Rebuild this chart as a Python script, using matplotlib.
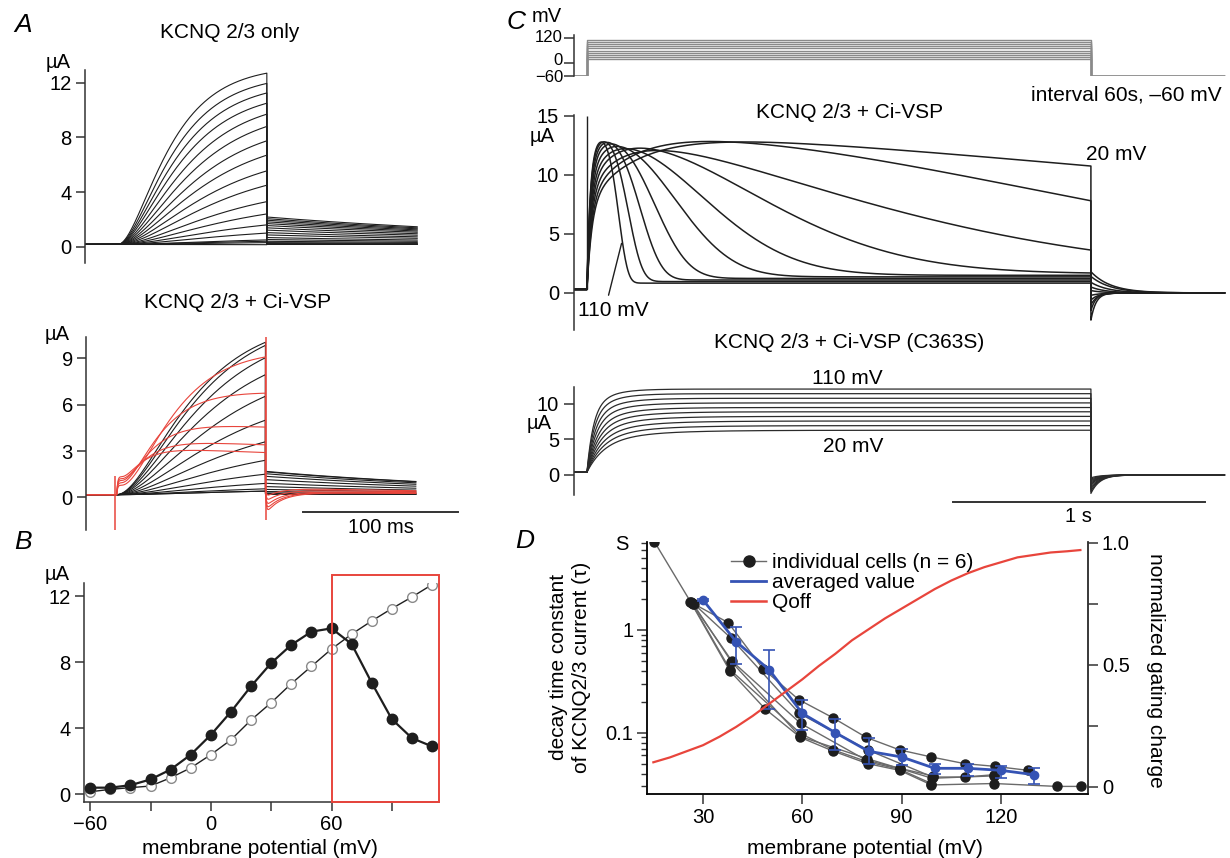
import numpy as np
import matplotlib
matplotlib.use("Agg")
import matplotlib.pyplot as plt
from matplotlib.lines import Line2D
from matplotlib.patches import Rectangle
from matplotlib.ticker import LogLocator, NullFormatter

plt.rcParams['font.family'] = ['Liberation Sans', 'DejaVu Sans']
plt.rcParams['font.size'] = 14.5
plt.rcParams['axes.linewidth'] = 1.1

W, H = 1230, 858
INK = '#1e1e1e'
AXC = '#333333'
RED = '#e8453c'
BLUE = '#3553b4'
GRAY = '#6a6a6a'

# ---------------- A / B : KCNQ2/3 steps (-60 .. 110 mV) ----------------
ab_mv = [-60, -50, -40, -30, -20, -10, 0, 10, 20, 30, 40, 50, 60, 70, 80, 90, 100, 110]
# current at end of the step (uA), KCNQ2/3 only (open circles in B)
only_end = [0.15, 0.3, 0.4, 0.5, 1.0, 1.6, 2.4, 3.3, 4.5, 5.55, 6.7, 7.75, 8.8, 9.7, 10.5, 11.25, 11.95, 12.7]
# KCNQ2/3 + Ci-VSP (filled circles in B)
vsp_end = [0.4, 0.4, 0.55, 0.9, 1.5, 2.4, 3.6, 5.0, 6.55, 7.95, 9.05, 9.85, 10.05, 9.1, 6.75, 4.55, 3.4, 2.9]
act_tau_ms = [60, 60, 60, 60, 60, 58, 56, 53, 50, 46, 43, 40, 37, 34, 31, 29, 27, 25]
a_step_ms = 96.0
a_tail_ms = 97.0
a_hold = 0.17
only_tail_ratio = 0.16
only_tail_tau = 220.0
vsp_tail_ratio = 0.153
vsp_tail_tau = 170.0
# red (depleting) traces 70..110 mV
vsp_red_mv = [70, 80, 90, 100, 110]
vsp_red_tau_ms = [28, 20, 15, 12, 10]
vsp_red_sag = [0.03, 0.04, 0.08, 0.10, 0.12]
vsp_red_hump = [0.8, 1.0, 1.2, 1.35, 1.5]
vsp_red_offdip = [0.6, 0.8, 1.0, 1.2, 1.4]
vsp_cap_on = [-2.6, 1.4]
vsp_cap_off = [-1.45, 10.6]
b_box_mv = [60, 113.3]
b_box_ua = [-0.45, 13.3]

# ---------------- C : 2 s steps, 20 .. 110 mV ----------------
c_mv = [20, 30, 40, 50, 60, 70, 80, 90, 100, 110]
c_hold_mv = -60
c_proto_ticks = [-60, 0, 120]
c_step_s = 2.0
c_end_s = 2.53
c_hold = 0.3
c_imax = 13.6
c_cap_peak = 15.0
c_fast_frac = [0.55, 0.58, 0.62, 0.65, 0.68, 0.71, 0.74, 0.76, 0.78, 0.80]
c_fast_tau = [0.020, 0.019, 0.018, 0.017, 0.016, 0.015, 0.014, 0.013, 0.012, 0.012]
c_slow_act = [0.20, 0.17, 0.14, 0.11, 0.09, 0.07, 0.055, 0.045, 0.038, 0.032]
c_t_half = [3.8, 2.08, 1.14, 0.726, 0.49, 0.366, 0.271, 0.209, 0.161, 0.1225]
c_steep = [1.5, 2.0, 1.58, 2.0, 2.2, 2.5, 3.0, 3.5, 4.0, 4.5]
c_rest = [0.08, 0.08, 0.08, 0.10, 0.09, 0.08, 0.07, 0.06, 0.05, 0.04]
c_tail = [1.8, 1.4, 0.9, 0.5, 0.2, -0.2, -0.6, -1.0, -1.5, -2.3]
c_tail_tau = [0.08, 0.08, 0.07, 0.06, 0.05, 0.04, 0.03, 0.025, 0.02, 0.02]
# C363S
cm_plateau = [6.3, 6.95, 7.6, 8.25, 8.9, 9.5, 10.15, 10.8, 11.45, 12.1]
cm_tau_fast = [0.07, 0.063, 0.057, 0.051, 0.046, 0.041, 0.036, 0.032, 0.028, 0.025]
cm_tail = [-0.4, -0.6, -0.8, -1.0, -1.2, -1.4, -1.7, -2.0, -2.3, -2.6]
cm_hold = 0.4

# ---------------- D : decay time constants ----------------
cells_mv = [
    [15.3, 26.2, 38.1, 48.8, 59.4, 69.4, 79.7, 89.4, 99.0, 118.0, 136.8, 144.3],
    [27.3, 37.6, 48.1, 58.9, 69.2, 79.3, 89.4, 99.0, 109.0, 118.2, 128.2],
    [26.8, 38.5, 59.1, 79.7, 99.4, 109.0, 118.0],
    [26.4, 38.7, 59.5, 79.3, 89.4, 99.4],
    [26.6, 38.2, 59.5, 69.4, 79.7, 89.4, 99.0],
    [27.0, 38.6, 59.3, 79.5, 99.2, 118.0],
]
cells_tau = [
    [7.25, 1.89, 0.40, 0.17, 0.090, 0.066, 0.050, 0.043, 0.031, 0.032, 0.030, 0.030],
    [1.79, 1.18, 0.42, 0.21, 0.14, 0.090, 0.068, 0.058, 0.050, 0.047, 0.043],
    [1.85, 0.83, 0.154, 0.068, 0.037, 0.037, 0.039],
    [1.87, 0.50, 0.123, 0.054, 0.045, 0.038],
    [1.83, 0.41, 0.098, 0.068, 0.052, 0.044, 0.032],
    [1.80, 0.49, 0.092, 0.056, 0.036, 0.038],
]
avg_mv = [30, 40, 50, 60, 70, 80, 90, 100, 110, 120, 130]
avg_tau = [1.96, 0.77, 0.41, 0.154, 0.10, 0.066, 0.058, 0.045, 0.045, 0.043, 0.039]
avg_hi = [2.0, 1.08, 0.64, 0.21, 0.136, 0.088, 0.069, 0.050, 0.050, 0.047, 0.045]
avg_lo = [1.92, 0.47, 0.17, 0.106, 0.068, 0.050, 0.048, 0.040, 0.038, 0.036, 0.032]
qoff_mv = [15, 20, 25, 30, 35, 40, 45, 50, 55, 60, 65, 70, 75, 80, 85, 90, 95, 100,
           105, 110, 115, 120, 125, 130, 135, 140, 144]
qoff = [0.10, 0.12, 0.145, 0.17, 0.205, 0.245, 0.29, 0.34, 0.39, 0.44, 0.495, 0.545, 0.60, 0.645,
        0.69, 0.73, 0.77, 0.81, 0.845, 0.875, 0.90, 0.92, 0.94, 0.95, 0.96, 0.965, 0.97]

fig = plt.figure(figsize=(W / 100, H / 100), dpi=100)


def px_axes(left, top, right, bottom):
    return fig.add_axes([left / W, 1 - bottom / H, (right - left) / W, (bottom - top) / H])


def px_text(x, y, s, **kw):
    kw.setdefault('ha', 'center')
    kw.setdefault('va', 'center')
    fig.text(x / W, 1 - y / H, s, **kw)


def trace_axes(ax, ticks, length=6.5, size=14.5):
    for side in ['top', 'right', 'bottom']:
        ax.spines[side].set_visible(False)
    ax.spines['left'].set_color(AXC)
    ax.set_xticks([])
    ax.set_yticks(ticks)
    ax.tick_params(axis='y', direction='out', length=length, width=1.1, pad=3,
                   labelsize=size, color=AXC)
    ax.patch.set_alpha(0)


def a_trace(end, tau, t_on):
    amp = (end - a_hold) / (1 - np.exp(-a_step_ms / tau)) ** 2
    return a_hold + amp * (1 - np.exp(-t_on / tau)) ** 2


t_on = np.linspace(0, a_step_ms, 240)
t_off = np.linspace(a_step_ms, a_step_ms + a_tail_ms, 150)

# ---- A top: KCNQ 2/3 only ----
ax = px_axes(85, 70, 460, 263)
ax.set_xlim(-21.3, 220.6)
ax.set_ylim(-1.19, 12.93)
trace_axes(ax, [0, 4, 8, 12])
for end, tau in zip(only_end, act_tau_ms):
    i_off = a_hold + only_tail_ratio * (end - a_hold) * np.exp(-(t_off - a_step_ms) / only_tail_tau)
    t = np.concatenate([[-21.3], t_on, t_off])
    i = np.concatenate([[a_hold], a_trace(end, tau, t_on), i_off])
    ax.plot(t, i, color=INK, lw=0.8)

# ---- A bottom: KCNQ 2/3 + Ci-VSP ----
ax = px_axes(86, 336.7, 460, 530)
ax.set_xlim(-19.8, 221.5)
ax.set_ylim(-2.12, 10.41)
trace_axes(ax, [0, 3, 6, 9])
for mv, end, tau in zip(ab_mv, vsp_end, act_tau_ms):
    if mv in vsp_red_mv:
        continue
    i_off = a_hold + vsp_tail_ratio * (end - a_hold) * np.exp(-(t_off - a_step_ms) / vsp_tail_tau)
    t = np.concatenate([[-19.8], t_on, t_off])
    i = np.concatenate([[a_hold], a_trace(end, tau, t_on), i_off])
    ax.plot(t, i, color=INK, lw=0.8)
for k, mv in enumerate(vsp_red_mv):
    end = vsp_end[ab_mv.index(mv)]
    tau = vsp_red_tau_ms[k]
    sag = vsp_red_sag[k]
    amp = (end - a_hold) / ((1 - np.exp(-a_step_ms / tau)) ** 2 * (1 - sag))
    i_on = (a_hold + amp * (1 - np.exp(-t_on / tau)) ** 2 * (1 - sag * t_on / a_step_ms)
            + vsp_red_hump[k] * np.exp(-t_on / 7.0) * (1 - np.exp(-t_on / 0.8)))
    dt = t_off - a_step_ms
    i_off = (a_hold + 0.05 * end * np.exp(-dt / vsp_tail_tau)
             - vsp_red_offdip[k] * np.exp(-dt / 10.0) * (1 - np.exp(-dt / 0.6)))
    t = np.concatenate([[-19.8], t_on, t_off])
    i = np.concatenate([[a_hold], i_on, i_off])
    ax.plot(t, i, color=RED, lw=0.8)
ax.vlines(-1.0, *vsp_cap_on, color=RED, lw=1.1)
ax.vlines(a_step_ms + 0.3, *vsp_cap_off, color=RED, lw=1.1)
ax.plot([120.2, 220.2], [-0.93, -0.93], color=AXC, lw=1.4, clip_on=False)
ax.text(170.2, -1.95, '100 ms', ha='center', va='center', fontsize=14.5, clip_on=False)

# ---- B ----
ax = px_axes(84, 583.3, 438.7, 801.7)
ax.set_xlim(-63.1, 113.3)
ax.set_ylim(-0.45, 12.78)
for side in ['top', 'right']:
    ax.spines[side].set_visible(False)
for side in ['left', 'bottom']:
    ax.spines[side].set_color(AXC)
ax.set_xticks([-60, -30, 0, 30, 60, 90])
ax.set_xticklabels(['\u221260', '', '0', '', '60', ''])
ax.set_yticks([0, 4, 8, 12])
ax.tick_params(direction='out', length=6.5, width=1.1, pad=3, labelsize=14.5, color=AXC)
ax.plot(ab_mv, only_end, color=INK, lw=1.0, marker='o', ms=7, mfc='white', mec='#8a8a8a', mew=1.0, zorder=3)
ax.plot(ab_mv, vsp_end, color=INK, lw=1.6, marker='o', ms=7.5, mfc=INK, mec=INK, zorder=4)
ax.add_patch(Rectangle((b_box_mv[0], b_box_ua[0]), b_box_mv[1] - b_box_mv[0], b_box_ua[1] - b_box_ua[0],
                       fill=False, ec=RED, lw=1.4, clip_on=False, zorder=5))

# ---- C protocol ----
ax = px_axes(573.6, 35, 1230, 76)
ax.set_xlim(-0.053, 2.552)
ax.set_ylim(-62.4, 134.4)
trace_axes(ax, c_proto_ticks, length=7)
ax.spines['left'].set_bounds(-60, 134.4)
ax.set_yticklabels([])
for lvl in c_mv:
    ax.plot([-0.053, 0, 0, c_step_s, c_step_s, c_end_s],
            [c_hold_mv, c_hold_mv, lvl, lvl, c_hold_mv, c_hold_mv], color='#8a8a8a', lw=1.0)
# tick labels of the crowded voltage axis, spread a little so they do not collide
for lab, y in zip(['\u221260', '0', '120'], [77.5, 60.5, 38]):
    px_text(563, y, lab, ha='right', fontsize=12)

# ---- C main: KCNQ 2/3 + Ci-VSP ----
ax = px_axes(573.6, 115, 1230, 330)
ax.set_xlim(-0.053, 2.552)
ax.set_ylim(-3.14, 15.08)
trace_axes(ax, [0, 5, 10, 15], length=7.5)
t_c = np.linspace(0, c_step_s, 1000)
t_ct = np.linspace(c_step_s, c_end_s, 220)


def c_wt(k, t):
    f = c_fast_frac[k]
    act = f * (1 - np.exp(-t / c_fast_tau[k])) + (1 - f) * (1 - np.exp(-t / c_slow_act[k]))
    dep = c_rest[k] + (1 - c_rest[k]) * np.exp(-np.log(2) * (t / c_t_half[k]) ** c_steep[k])
    return c_hold + (c_imax - c_hold) * act * dep


for k in range(len(c_mv)):
    i_off = c_tail[k] * np.exp(-(t_ct - c_step_s) / c_tail_tau[k])
    t = np.concatenate([[-0.053], t_c, t_ct])
    i = np.concatenate([[c_hold], c_wt(k, t_c), i_off])
    ax.plot(t, i, color=INK, lw=1.1)
ax.vlines(0, c_hold, c_cap_peak, color=INK, lw=1.0)
t_pt = 0.14
ax.annotate('', xy=(t_pt, c_wt(len(c_mv) - 1, np.array([t_pt]))[0]), xytext=(0.083, -0.42),
            arrowprops=dict(arrowstyle='-', lw=1.0, color=INK))

# ---- C363S ----
ax = px_axes(573.6, 387, 1230, 495)
ax.set_xlim(-0.053, 2.552)
ax.set_ylim(-2.82, 12.39)
trace_axes(ax, [0, 5, 10], length=7.5)
for k in range(len(c_mv)):
    tf = cm_tau_fast[k]
    rise = 0.75 * (1 - np.exp(-t_c / tf)) + 0.25 * (1 - np.exp(-t_c / (3 * tf)))
    i_on = cm_hold + (cm_plateau[k] - cm_hold) * rise
    i_off = cm_tail[k] * np.exp(-(t_ct - c_step_s) / 0.035)
    t = np.concatenate([[-0.053], t_c, t_ct])
    i = np.concatenate([[cm_hold], i_on, i_off])
    ax.plot(t, i, color='#2b2b2b', lw=0.9)
ax.plot([1.452, 2.452], [-3.8, -3.8], color=AXC, lw=1.4, clip_on=False)
ax.text(1.952, -5.9, '1 s', ha='center', va='center', fontsize=14.5, clip_on=False)

# ---- D ----
ax = px_axes(647.3, 542, 1088, 794)
ax.set_xlim(13.17, 146.3)
ax.set_yscale('log')
ax.set_ylim(0.0253, 7.19)
ax.spines['top'].set_visible(False)
for side in ['left', 'bottom', 'right']:
    ax.spines[side].set_color(AXC)
ax.set_xticks([30, 60, 90, 120])
ax.set_yticks([0.1, 1])
ax.set_yticklabels(['0.1', '1'])
ax.yaxis.set_minor_locator(LogLocator(base=10, subs=np.arange(2, 10)))
ax.yaxis.set_minor_formatter(NullFormatter())
ax.tick_params(direction='out', length=7, width=1.1, pad=3, labelsize=14.5, color=AXC)
ax.tick_params(which='minor', direction='out', length=4, width=1.0, color=AXC)
for mv, tau in zip(cells_mv, cells_tau):
    ax.plot(mv, tau, color=GRAY, lw=1.0, zorder=2)
    ax.plot(mv, tau, ls='none', marker='o', ms=6.5, mfc=INK, mec=INK, zorder=3)
ax.errorbar(avg_mv, avg_tau,
            yerr=[np.array(avg_tau) - np.array(avg_lo), np.array(avg_hi) - np.array(avg_tau)],
            color=BLUE, lw=2.0, elinewidth=1.2, capsize=4, capthick=1.2,
            marker='o', ms=6, mfc=BLUE, mec=BLUE, zorder=4)

ax2 = ax.twinx()
ax2.set_ylim(-0.030, 1.003)
ax2.spines['top'].set_visible(False)
ax2.spines['right'].set_color(AXC)
ax2.set_yticks([0, 0.5, 1.0])
ax2.set_yticklabels(['0', '0.5', '1.0'])
ax2.set_yticks([0.25, 0.75], minor=True)
ax2.tick_params(direction='out', length=7, width=1.1, pad=3, labelsize=14.5, color=AXC)
ax2.tick_params(which='minor', direction='out', length=7, width=1.1, color=AXC)
ax2.plot(qoff_mv, qoff, color=RED, lw=1.6)
handles = [Line2D([], [], color=GRAY, lw=1.0, marker='o', ms=8, mfc=INK, mec=INK),
           Line2D([], [], color=BLUE, lw=2.0),
           Line2D([], [], color=RED, lw=1.8)]
ax2.legend(handles, ['individual cells (n = 6)', 'averaged value', 'Qoff'],
           loc='upper left', bbox_to_anchor=(0.19, 0.955), frameon=False, fontsize=15,
           handlelength=1.7, handletextpad=0.25, labelspacing=0.05, borderaxespad=0, borderpad=0)

# ---- texts ----
letter = dict(fontsize=19, fontstyle='italic')
px_text(23, 25, 'A', **letter)
px_text(23, 542, 'B', **letter)
px_text(516, 22, 'C', **letter)
px_text(525, 541, 'D', **letter)

px_text(230, 33, 'KCNQ 2/3 only', fontsize=15)
px_text(238, 303, 'KCNQ 2/3 + Ci-VSP', fontsize=15)
px_text(850, 113, 'KCNQ 2/3 + Ci-VSP', fontsize=15)
px_text(849, 342, 'KCNQ 2/3 + Ci-VSP (C363S)', fontsize=15)

for x, y in [(58, 63), (57, 335), (57, 575), (542, 137), (539, 424)]:
    px_text(x, y, '\u00b5A', fontsize=14.5)
px_text(547, 17, 'mV', fontsize=14.5)
px_text(622, 545, 'S', fontsize=14.5)

px_text(1222, 95, 'interval 60s, \u201360 mV', ha='right', fontsize=15)
px_text(1116, 155, '20 mV', fontsize=15)
px_text(613, 310, '110 mV', fontsize=15)
px_text(847, 378, '110 mV', fontsize=15)
px_text(853, 447, '20 mV', fontsize=15)

px_text(260, 848, 'membrane potential (mV)', fontsize=15)
px_text(865, 848, 'membrane potential (mV)', fontsize=15)
px_text(570, 667, 'decay time constant\nof KCNQ2/3 current (\u03c4)', rotation=90, fontsize=15, linespacing=1.3)
px_text(1156, 670, 'normalized gating charge', rotation=270, fontsize=15)

fig.savefig('out.png', dpi=100, facecolor='white')
